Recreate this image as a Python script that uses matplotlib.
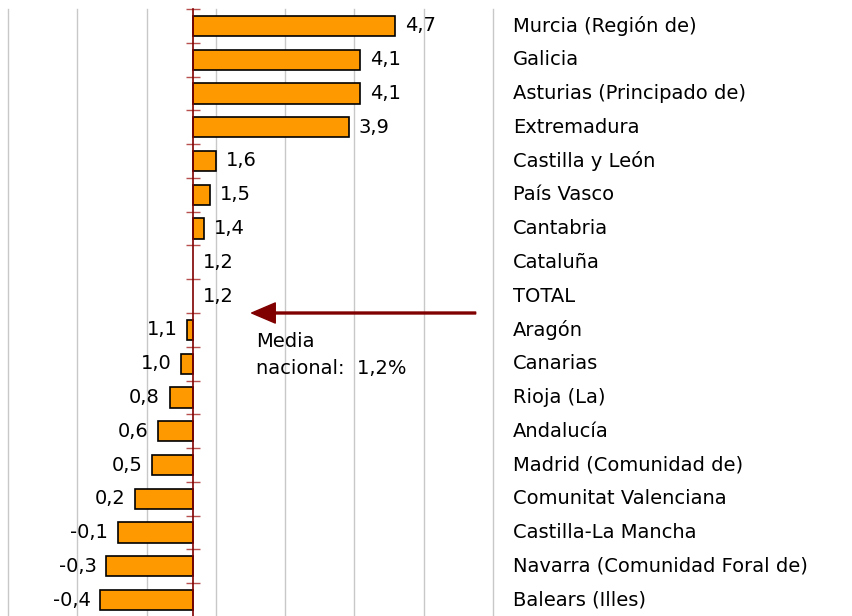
import matplotlib
matplotlib.use("Agg")
import matplotlib.pyplot as plt
from matplotlib.transforms import blended_transform_factory
import numpy as np

categories = [
    "Murcia (Región de)", "Galicia", "Asturias (Principado de)", "Extremadura",
    "Castilla y León", "País Vasco", "Cantabria", "Cataluña", "TOTAL",
    "Aragón", "Canarias", "Rioja (La)", "Andalucía", "Madrid (Comunidad de)",
    "Comunitat Valenciana", "Castilla-La Mancha", "Navarra (Comunidad Foral de)",
    "Balears (Illes)",
]
values = [4.7, 4.1, 4.1, 3.9, 1.6, 1.5, 1.4, 1.2, 1.2,
          1.1, 1.0, 0.8, 0.6, 0.5, 0.2, -0.1, -0.3, -0.4]
media = 1.2
annotation_text = "Media\nnacional:  1,2%"

plt.rcParams['font.family'] = ['DejaVu Sans']
FS = 14

fig = plt.figure(figsize=(8.53, 6.16), dpi=100)
ax = fig.add_axes([8/853, 1 - 9/616 - 608/616, 485/853, 608/616])

n = len(categories)
ypos = np.arange(n)
widths = [v - media for v in values]
lws = [1.2 if w != 0 else 0 for w in widths]
ax.barh(ypos, widths, left=media, height=0.6, color='#FF9900',
        edgecolor='black', linewidth=lws, zorder=2)

ax.set_xlim(-2.0, 6.4)
ax.set_ylim(n - 0.5, -0.5)

ax.set_xticks(np.arange(-2.0, 6.41, 1.2))
ax.xaxis.grid(True, color='#c8c8c8', linewidth=1.0, zorder=0)
for gl in ax.get_xgridlines():
    gl.set_clip_on(False)
ax.set_axisbelow(True)
ax.tick_params(axis='x', length=0, labelbottom=False)

for s in ['top', 'right', 'bottom']:
    ax.spines[s].set_visible(False)
ax.spines['left'].set_position(('data', media))
ax.spines['left'].set_color('#800000')
ax.spines['left'].set_linewidth(1.2)
ax.spines['left'].set_zorder(3)

ax.set_yticks(np.arange(-0.5, n + 0.5, 1.0))
ax.tick_params(axis='y', direction='inout', length=10, width=1.0,
               color='#b85050', labelleft=False)

# value labels
for y, v in zip(ypos, values):
    lab = f"{v:.1f}".replace('.', ',')
    if v >= media:
        ax.annotate(lab, xy=(v, y), xytext=(7, 0), textcoords='offset points',
                    ha='left', va='center', fontsize=FS, color='black')
    else:
        ax.annotate(lab, xy=(v, y), xytext=(-7, 0), textcoords='offset points',
                    ha='right', va='center', fontsize=FS, color='black')

# category labels on the right
trans = blended_transform_factory(ax.transAxes, ax.transData)
for y, c in zip(ypos, categories):
    ax.text(1.0412, y, c, transform=trans, ha='left', va='center',
            fontsize=FS, color='black', clip_on=False)

# arrow and annotation
ax.annotate('', xy=(2.22, 8.5), xytext=(6.1, 8.5),
            arrowprops=dict(width=1.4, headwidth=14.5, headlength=17,
                            color='#800000', shrink=0))
ax.text(2.29, 9.05, annotation_text, ha='left', va='top', fontsize=FS,
        linespacing=1.55, color='black')

fig.savefig("out.png", dpi=100)
